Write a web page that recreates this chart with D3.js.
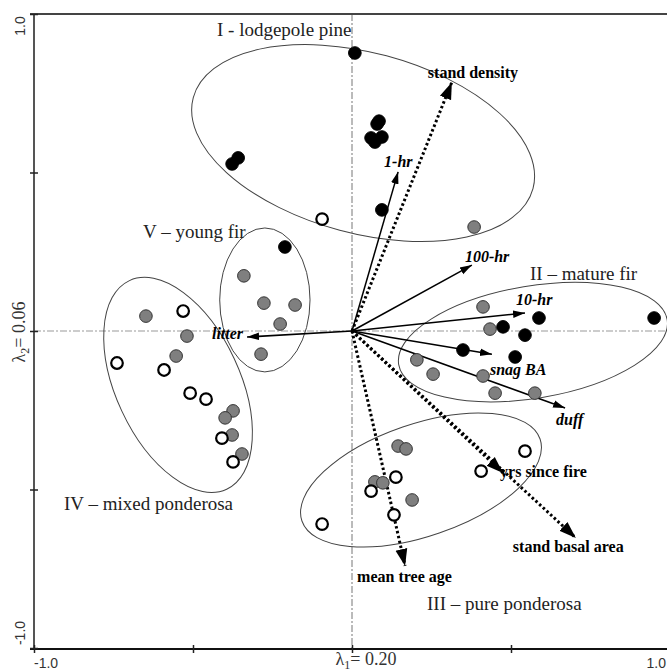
<!DOCTYPE html>
<html>
<head>
<meta charset="utf-8">
<script src="https://cdn.jsdelivr.net/npm/d3@7"></script>
<style>
  html, body { margin: 0; padding: 0; background: #fff; }
  svg { display: block; }
</style>
</head>
<body>
<svg id="chart" width="667" height="672"></svg>
<script>
// ---------- DATA ----------
// Site scores (axis 1, axis 2) by class
const blackSites = [
  [0.009, 0.877], [0.079, 0.653], [0.085, 0.662], [0.060, 0.609], [0.094, 0.612],
  [0.072, 0.596], [-0.377, 0.527], [-0.358, 0.546], [0.094, 0.382], [-0.211, 0.265],
  [0.588, 0.041], [0.950, 0.041], [0.475, 0.013], [0.544, -0.013], [0.349, -0.060],
  [0.513, -0.082]
];
const graySites = [
  [0.384, 0.328], [0.412, 0.076], [0.434, 0.006], [0.204, -0.091], [0.255, -0.136],
  [0.412, -0.142], [0.450, -0.196], [0.575, -0.196],
  [-0.340, 0.174], [-0.277, 0.088], [-0.179, 0.082], [-0.226, 0.022], [-0.286, -0.073],
  [-0.648, 0.047], [-0.519, -0.016], [-0.553, -0.079], [-0.374, -0.252], [-0.399, -0.274],
  [-0.377, -0.328], [-0.346, -0.388],
  [0.145, -0.363], [0.170, -0.372], [0.072, -0.476], [0.097, -0.479], [0.189, -0.533]
];
const openSites = [
  [-0.094, 0.353], [-0.531, 0.063], [-0.739, -0.101], [-0.591, -0.123], [-0.509, -0.196],
  [-0.459, -0.215], [-0.409, -0.338], [-0.374, -0.413],
  [-0.094, -0.609], [0.060, -0.505], [0.138, -0.461], [0.132, -0.580], [0.406, -0.442],
  [0.544, -0.379]
];

// Environmental vectors
const fuelVectors = ["1-hr", "100-hr", "10-hr", "snag BA", "duff", "litter"];
const fuelX = [0.145, 0.377, 0.544, 0.440, 0.670, -0.330];
const fuelY = [0.502, 0.208, 0.057, -0.073, -0.243, -0.019];

const standVectors = ["stand density", "yrs since fire", "stand basal area", "mean tree age"];
const standX = [0.314, 0.475, 0.704, 0.167];
const standY = [0.785, -0.448, -0.653, -0.741];

// Group ellipses: centre, semi-axes (data units), rotation (deg)
const groupNames = ["I - lodgepole pine", "II – mature fir", "III – pure ponderosa", "IV – mixed ponderosa", "V – young fir"];
const groupCx = [0.035, 0.569, 0.217, -0.547, -0.274];
const groupCy = [0.593, -0.035, -0.470, -0.170, 0.098];
const groupRx = [0.553, 0.428, 0.396, 0.195, 0.142];
const groupRy = [0.285, 0.177, 0.177, 0.363, 0.227];
const groupAngle = [15, -9.5, -19, -25, 0];

// Axis tick labels
const xTickValues = [-1, 0, 1];
const xTickLabels = ["-1.0", "λ1= 0.20", "1.0"];
const yTickValues = [1, 0, -1];
const yTickLabels = ["1.0", "λ2= 0.06", "-1.0"];
const tickMarks = [-1, -0.5, 0, 0.5, 1];

// ---------- LAYOUT (positions / styles) ----------
const W = 667, H = 672;
const x = d3.scaleLinear().domain([-1, 1]).range([34, 670]);
const y = d3.scaleLinear().domain([-1, 1]).range([648, 14]);

// label anchors (pixel offsets from arrow tips)
const fuelLabelPos = [
  {dx: -14, dy: -5, anchor: "start"},
  {dx: -7, dy: -3, anchor: "start"},
  {dx: -9, dy: -8, anchor: "start"},
  {dx: -2, dy: 21, anchor: "start"},
  {dx: -9, dy: 17, anchor: "start"},
  {dx: -4, dy: 2, anchor: "end"}
];
const standLabelPos = [
  {dx: -24, dy: -4, anchor: "start"},
  {dx: -3, dy: 4, anchor: "start"},
  {dx: -63, dy: 14, anchor: "start"},
  {dx: -48, dy: 16, anchor: "start"}
];
const groupLabelPx = [[217, 36], [530, 280], [427, 610], [64, 510], [143, 238]];

const svg = d3.select("#chart");
const serif = "'Liberation Serif', 'Times New Roman', serif";
const sans = "'Liberation Sans', Arial, sans-serif";

// markers
const defs = svg.append("defs");
defs.append("marker").attr("id", "headS")
  .attr("markerUnits", "userSpaceOnUse").attr("viewBox", "0 -5 12 10")
  .attr("refX", 12).attr("refY", 0).attr("markerWidth", 12).attr("markerHeight", 10)
  .attr("orient", "auto")
  .append("path").attr("d", "M0,-3.8L12,0L0,3.8Z").attr("fill", "#000");
defs.append("marker").attr("id", "headD")
  .attr("markerUnits", "userSpaceOnUse").attr("viewBox", "0 -7 17 14")
  .attr("refX", 17).attr("refY", 0).attr("markerWidth", 17).attr("markerHeight", 14)
  .attr("orient", "auto")
  .append("path").attr("d", "M0,-6L17,0L0,6Z").attr("fill", "#000");

// reference dash-dot lines through origin
svg.append("line").attr("x1", x(0)).attr("x2", x(0)).attr("y1", y(1)).attr("y2", y(-1))
  .attr("stroke", "#777").attr("stroke-width", 1).attr("stroke-dasharray", "7,2,2,2");
svg.append("line").attr("x1", x(-1)).attr("x2", x(1)).attr("y1", y(0)).attr("y2", y(0))
  .attr("stroke", "#999").attr("stroke-width", 1).attr("stroke-dasharray", "7,2,2,2");

// frame
svg.append("line").attr("x1", 30).attr("x2", x(1)).attr("y1", y(1)).attr("y2", y(1))
  .attr("stroke", "#444").attr("stroke-width", 2);
svg.append("line").attr("x1", x(-1)).attr("x2", x(-1)).attr("y1", y(1)).attr("y2", y(-1) + 1)
  .attr("stroke", "#555").attr("stroke-width", 2);
svg.append("line").attr("x1", 30).attr("x2", x(1)).attr("y1", y(-1) + 1).attr("y2", y(-1) + 1)
  .attr("stroke", "#111").attr("stroke-width", 2);

// tick marks via axes
const xAxisG = svg.append("g").attr("transform", `translate(0,${y(-1) - 3})`)
  .call(d3.axisBottom(x).tickValues(tickMarks).tickSize(8).tickFormat(""));
xAxisG.select(".domain").remove();
xAxisG.selectAll("line").attr("stroke", "#222").attr("stroke-width", 1.5);
const yAxisG = svg.append("g").attr("transform", `translate(${x(-1) + 4},0)`)
  .call(d3.axisLeft(y).tickValues(tickMarks).tickSize(8).tickFormat(""));
yAxisG.select(".domain").remove();
yAxisG.selectAll("line").attr("stroke", "#222").attr("stroke-width", 1.5);

// tick labels
function subLabel(sel, label) {
  const m = label.match(/^(λ)(\d)(.*)$/);
  if (m) {
    sel.append("tspan").text(m[1]);
    sel.append("tspan").attr("font-size", "12px").attr("dy", 4).text(m[2]);
    sel.append("tspan").attr("dy", -4).text(m[3]);
  } else sel.text(label);
}
xTickValues.forEach((v, i) => {
  const isLambda = xTickLabels[i].startsWith("λ");
  const t = svg.append("text")
    .attr("x", v === -1 ? x(v) : v === 1 ? 666 : x(v) + 14)
    .attr("y", isLambda ? 665 : 668)
    .attr("text-anchor", v === -1 ? "start" : v === 1 ? "end" : "middle")
    .attr("font-family", isLambda ? serif : sans)
    .attr("font-size", isLambda ? "18px" : "14px")
    .attr("fill", "#333");
  subLabel(t, xTickLabels[i]);
});
yTickValues.forEach((v, i) => {
  const isLambda = yTickLabels[i].startsWith("λ");
  const cy = v === 1 ? 26 : v === -1 ? 633 : y(v) + 1;
  const t = svg.append("text")
    .attr("transform", `translate(25,${cy}) rotate(-90)`)
    .attr("text-anchor", "middle")
    .attr("font-family", isLambda ? serif : sans)
    .attr("font-size", isLambda ? "18px" : "14px")
    .attr("fill", "#333");
  subLabel(t, yTickLabels[i]);
});

// ellipses
groupNames.forEach((g, i) => {
  svg.append("ellipse")
    .attr("transform", `translate(${x(groupCx[i])},${y(groupCy[i])}) rotate(${groupAngle[i]})`)
    .attr("rx", x(groupRx[i]) - x(0))
    .attr("ry", y(0) - y(groupRy[i]))
    .attr("fill", "none").attr("stroke", "#444").attr("stroke-width", 1);
  svg.append("text")
    .attr("x", groupLabelPx[i][0]).attr("y", groupLabelPx[i][1])
    .attr("font-family", serif).attr("font-size", "19px").attr("fill", "#222")
    .text(g);
});

// stand vectors (dotted)
standVectors.forEach((name, i) => {
  svg.append("line")
    .attr("x1", x(0)).attr("y1", y(0)).attr("x2", x(standX[i])).attr("y2", y(standY[i]))
    .attr("stroke", "#000").attr("stroke-width", 3).attr("stroke-dasharray", "2.5,2.5")
    .attr("marker-end", "url(#headD)");
});
// fuel vectors (solid)
fuelVectors.forEach((name, i) => {
  svg.append("line")
    .attr("x1", x(0)).attr("y1", y(0)).attr("x2", x(fuelX[i])).attr("y2", y(fuelY[i]))
    .attr("stroke", "#000").attr("stroke-width", 1.5)
    .attr("marker-end", "url(#headS)");
});

// site points
const r = 6.3;
svg.append("g").selectAll("circle").data(graySites).join("circle")
  .attr("cx", d => x(d[0])).attr("cy", d => y(d[1])).attr("r", r)
  .attr("fill", "#7f7f7f").attr("stroke", "#333").attr("stroke-width", 1);
svg.append("g").selectAll("circle").data(openSites).join("circle")
  .attr("cx", d => x(d[0])).attr("cy", d => y(d[1])).attr("r", r - 0.5)
  .attr("fill", "#fff").attr("stroke", "#000").attr("stroke-width", 2.2);
svg.append("g").selectAll("circle").data(blackSites).join("circle")
  .attr("cx", d => x(d[0])).attr("cy", d => y(d[1])).attr("r", r)
  .attr("fill", "#000").attr("stroke", "#000").attr("stroke-width", 1);

// vector labels
fuelVectors.forEach((name, i) => {
  const p = fuelLabelPos[i];
  svg.append("text")
    .attr("x", x(fuelX[i]) + p.dx).attr("y", y(fuelY[i]) + p.dy)
    .attr("text-anchor", p.anchor)
    .attr("font-family", serif).attr("font-size", "16px")
    .attr("font-weight", "bold").attr("font-style", "italic").attr("fill", "#000")
    .text(name);
});
standVectors.forEach((name, i) => {
  const p = standLabelPos[i];
  svg.append("text")
    .attr("x", x(standX[i]) + p.dx).attr("y", y(standY[i]) + p.dy)
    .attr("text-anchor", p.anchor)
    .attr("font-family", serif).attr("font-size", "16px")
    .attr("font-weight", "bold").attr("fill", "#000")
    .text(name);
});
</script>
</body>
</html>
